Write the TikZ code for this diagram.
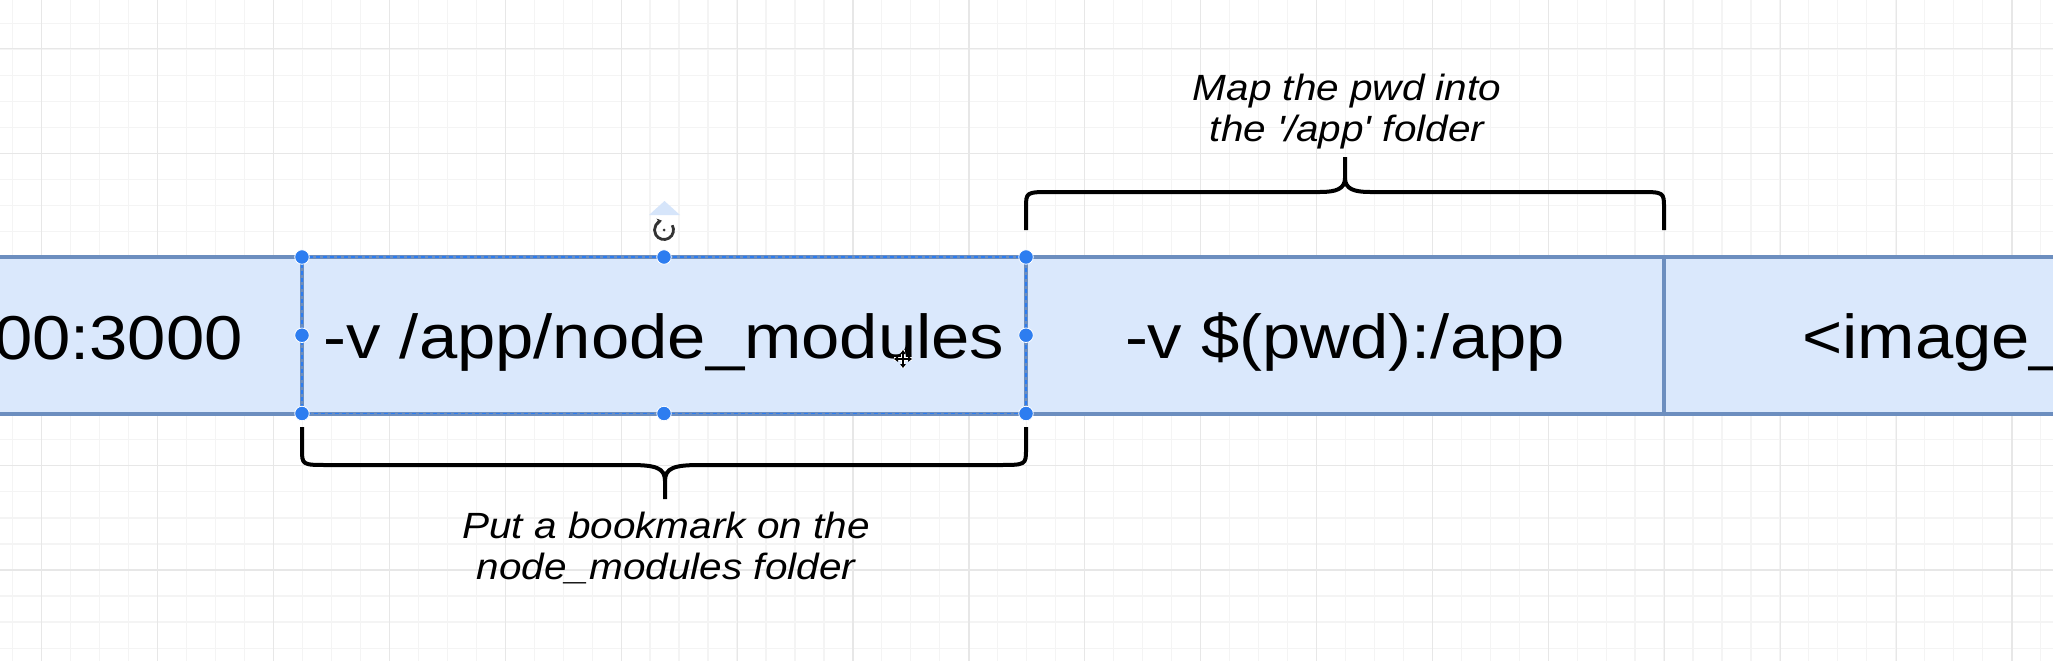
\documentclass[tikz,border=0pt]{standalone}
\usepackage{fontspec}
\setmainfont{Liberation Sans}
\usepackage{graphicx}
\usetikzlibrary{arrows.meta}
\definecolor{cellfill}{RGB}{218,232,252}
\definecolor{cellline}{RGB}{108,142,191}
\definecolor{handle}{RGB}{45,125,240}
\definecolor{gridminor}{RGB}{244,244,244}
\definecolor{gridmajor}{RGB}{231,231,231}
\definecolor{rotfill}{RGB}{214,229,250}
\newcommand{\stretchtext}[1]{\scalebox{1.11}[1]{#1}}
\tikzset{
 cell/.style={draw=cellline, fill=cellfill, line width=4pt, inner sep=0pt, outer sep=0pt, minimum height=156.5pt},
 celltext/.style={inner sep=0pt, anchor=base, font=\fontsize{62}{70}\selectfont},
 note/.style={inner sep=0pt, anchor=base, font=\fontsize{36.5}{41.5}\selectfont\itshape},
 bracepath/.style={draw=black, line width=4pt, line cap=butt, line join=round},
 handledot/.style={circle, fill=handle, draw=white, line width=0.8pt, minimum size=14.5pt, inner sep=0pt},
 selline/.style={draw=handle, line width=1.2pt, dash pattern=on 4pt off 3pt},
 gminor/.style={draw=gridminor, line width=1.2pt},
 gmajor/.style={draw=gridmajor, line width=1.2pt},
}
\begin{document}
\begin{tikzpicture}[x=1pt,y=-1pt]
\useasboundingbox (0,0) rectangle (2053,661);
\clip (0,0) rectangle (2053,661);
\fill[white] (0,0) rectangle (2053,661);
% grid
\foreach \i in {0,...,70} \draw[gminor] ({12.73+\i*28.97},0) -- ({12.73+\i*28.97},661);
\foreach \j in {0,...,26} \draw[gminor] (0,{-2.9+\j*26.04}) -- (2053,{-2.9+\j*26.04});
\foreach \i in {0,...,17} \draw[gmajor] ({41.7+\i*115.9},0) -- ({41.7+\i*115.9},661);
\foreach \j in {0,...,6} \draw[gmajor] (0,{48.9+\j*104.2}) -- (2053,{48.9+\j*104.2});
% cells
\node[cell, minimum width=362pt] (cellA) at (121,335.25) {};
\node[cell, minimum width=724pt] (cellB) at (664,335.25) {};
\node[cell, minimum width=638pt] (cellC) at (1345,335.25) {};
\node[cell, minimum width=456pt] (cellD) at (1892,335.25) {};
\draw[selline] (cellB.north west) rectangle (cellB.south east);
% cell texts
\node[celltext, anchor=base east] (tA) at (243,359) {\stretchtext{00:3000}};
\node[celltext] (tB) at (664,358) {\stretchtext{-v /app/node\_modules}};
\node[celltext] (tC) at (1345,358) {\stretchtext{-v \$(pwd):/app}};
\node[celltext, anchor=base west] (tD) at (1802,358) {\stretchtext{<image\_}};
% bottom brace
\draw[bracepath] (302,427) -- (302,449) .. controls (302,465) .. (328,465) -- (630,465) .. controls (656,465) and (665,468) .. (665,481) -- (665,499);
\draw[bracepath] (665,481) .. controls (665,468) and (674,465) .. (700,465) -- (998,465) .. controls (1026,465) .. (1026,449) -- (1026,427);
% top brace
\draw[bracepath] (1026,230) -- (1026,208) .. controls (1026,192) .. (1052,192) -- (1320,192) .. controls (1336,192) and (1345,189) .. (1345,178) -- (1345,157);
\draw[bracepath] (1345,178) .. controls (1345,189) and (1354,192) .. (1370,192) -- (1638,192) .. controls (1664,192) .. (1664,208) -- (1664,230);
% labels
\node[note] (lblTop) at (1347,100) {\stretchtext{\begin{tabular}[t]{@{}c@{}}Map the pwd into\\the \textquotesingle/app\textquotesingle{} folder\end{tabular}}};
\node[note] (lblBot) at (666,538) {\stretchtext{\begin{tabular}[t]{@{}c@{}}Put a bookmark on the\\node\_modules folder\end{tabular}}};
% selection handles
\node[handledot] (hNW) at (302,257) {};
\node[handledot] (hN) at (664,257) {};
\node[handledot] (hNE) at (1026,257) {};
\node[handledot] (hW) at (302,335.25) {};
\node[handledot] (hE) at (1026,335.25) {};
\node[handledot] (hSW) at (302,413.5) {};
\node[handledot] (hS) at (664,413.5) {};
\node[handledot] (hSE) at (1026,413.5) {};
% rotate handle
\fill[rotfill] (649,215) -- (680,215) -- (664.5,201) -- cycle;
\draw[black!80, line width=2.8pt, -{Stealth[length=5pt,width=6.5pt]}] (664,230) ++(-30:9.5) arc[start angle=-30, end angle=258, radius=9.5];
\fill[black!80] (664,230) circle (1.5);
% move cursor
\draw[white, line width=4.5pt] (894,359) -- (912,359) (903,350) -- (903,368);
\draw[black, line width=1.5pt, {Triangle[length=4pt,width=5.5pt]}-{Triangle[length=4pt,width=5.5pt]}] (894,359) -- (912,359);
\draw[black, line width=1.5pt, {Triangle[length=4pt,width=5.5pt]}-{Triangle[length=4pt,width=5.5pt]}] (903,350) -- (903,368);
\end{tikzpicture}
\end{document}
